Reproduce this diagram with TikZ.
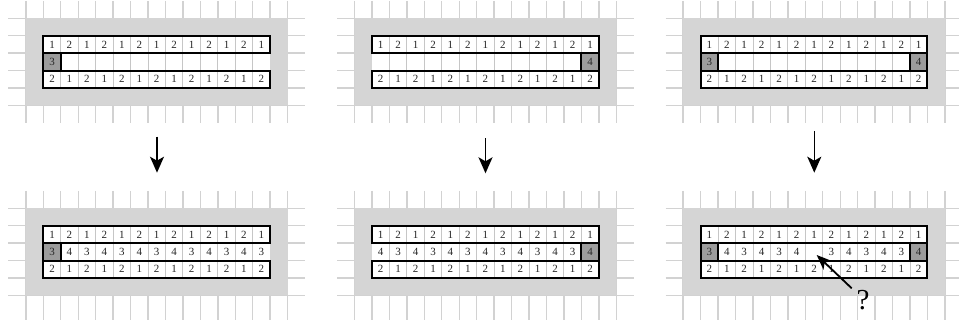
\documentclass[tikz,border=0pt]{standalone}
\usepackage{fontspec}
\setmainfont{Liberation Serif}
\usetikzlibrary{arrows.meta}

\definecolor{gridgray}{HTML}{D2D2D2}
\definecolor{panelgray}{HTML}{D5D5D5}
\definecolor{cellgray}{HTML}{9C9C9C}
\definecolor{sepgray}{HTML}{C6C6C6}
\definecolor{digitcol}{HTML}{262626}

\tikzset{
  gridline/.style={draw=gridgray, line width=1.4pt},
  backdrop/.style={fill=panelgray},
  rowbox/.style={draw=black, line width=2pt},
  sepline/.style={draw=sepgray, line width=0.9pt},
  keycell/.style={fill=cellgray, draw=black, line width=2pt},
  digitlabel/.style={font=\fontsize{11}{12}\selectfont, text=digitcol, inner sep=0pt},
  flowarrow/.style={line width=1.6pt, -{Stealth[length=16pt,width=14pt,inset=4pt]}},
  hintarrow/.style={line width=1.8pt, -{Stealth[length=15pt,width=12pt,inset=4pt]}},
}

% cell size
\newcommand{\cs}{17.45}
% how far the grid runs below a panel (in cells)
\newcommand{\lowext}{1}

% #1 name, #2 x of table, #3 y of table, #4 key cell indices,
% #5 index/value pairs of the middle row, #6 1 = box the middle row
\newcommand{\drawpanel}[6]{%
  \begin{scope}[shift={(#2,#3)}]
    % light grid around the panel
    \foreach \k in {0,...,5}
      \draw[gridline] (-2*\cs,-\cs+\k*\cs) -- (15*\cs,-\cs+\k*\cs);
    \foreach \k in {0,...,15}
      \draw[gridline] (-\cs+\k*\cs,-2*\cs) -- (-\cs+\k*\cs,{(4+\lowext)*\cs});
    % grey backdrop and white table
    \fill[backdrop] (-\cs,-\cs) rectangle (14*\cs,4*\cs);
    \fill[white] (0,0) rectangle (13*\cs,3*\cs);
    \foreach \k in {1,...,12}
      \draw[sepline] (\k*\cs,0) -- (\k*\cs,3*\cs);
    % shaded key cells in the middle row
    \foreach \j in {#4}
      \filldraw[keycell] ({(\j-1)*\cs},\cs) rectangle ({\j*\cs},2*\cs);
    % outer rows
    \draw[rowbox] (0,0) rectangle (13*\cs,\cs);
    \draw[rowbox] (0,2*\cs) rectangle (13*\cs,3*\cs);
    \ifnum#6=1
      \draw[rowbox] (0,\cs) rectangle (13*\cs,2*\cs);
    \fi
    % numbers
    \foreach \i in {1,...,13}{
      \pgfmathtruncatemacro\d{mod(\i+1,2)+1}
      \pgfmathtruncatemacro\e{3-\d}
      \node[digitlabel] (#1-t-\i) at ({(\i-0.5)*\cs},0.5*\cs) {\d};
      \node[digitlabel] (#1-b-\i) at ({(\i-0.5)*\cs},2.5*\cs) {\e};
    }
    \foreach \i/\v in {#5}
      \node[digitlabel] (#1-m-\i) at ({(\i-0.5)*\cs},1.5*\cs) {\v};
  \end{scope}%
}

\begin{document}
\begin{tikzpicture}[x=1pt,y=-1pt]
  \useasboundingbox (0,0) rectangle (959,320);

  % upper panels: only the key cells are placed
  \drawpanel{ua}{43.3}{35.7}{1}{1/3}{0}
  \drawpanel{ub}{371.95}{35.7}{13}{13/4}{0}
  \drawpanel{uc}{700.6}{35.7}{1,13}{1/3,13/4}{1}

  % lower panels: the middle row filled in, grid running off the bottom
  \renewcommand{\lowext}{1.4}
  \drawpanel{la}{43.3}{225.7}{1}
    {1/3,2/4,3/3,4/4,5/3,6/4,7/3,8/4,9/3,10/4,11/3,12/4,13/3}{0}
  \drawpanel{lb}{371.95}{225.7}{13}
    {1/4,2/3,3/4,4/3,5/4,6/3,7/4,8/3,9/4,10/3,11/4,12/3,13/4}{0}
  \drawpanel{lc}{700.6}{225.7}{1,13}
    {1/3,2/4,3/3,4/4,5/3,6/4,8/3,9/4,10/3,11/4,12/3,13/4}{1}

  % downward arrows between the rows of panels
  \coordinate (fa-s) at (157,136.7);
  \coordinate (fa-e) at (157,172.7);
  \coordinate (fb-s) at (485.5,138.3);
  \coordinate (fb-e) at (485.5,173.3);
  \coordinate (fc-s) at (814.3,131);
  \coordinate (fc-e) at (814.3,172.7);
  \draw[flowarrow] (fa-s) -- (fa-e);
  \draw[flowarrow] (fb-s) -- (fb-e);
  \draw[flowarrow] (fc-s) -- (fc-e);

  % the open cell and its question mark
  \node[font=\fontsize{29}{30}\selectfont, inner sep=0pt] (qmark) at (863,300) {?};
  \coordinate (q-tail) at (851.7,288.3);
  \coordinate (q-tip) at (816.7,255);
  \draw[hintarrow] (q-tail) -- (q-tip);
\end{tikzpicture}
\end{document}
